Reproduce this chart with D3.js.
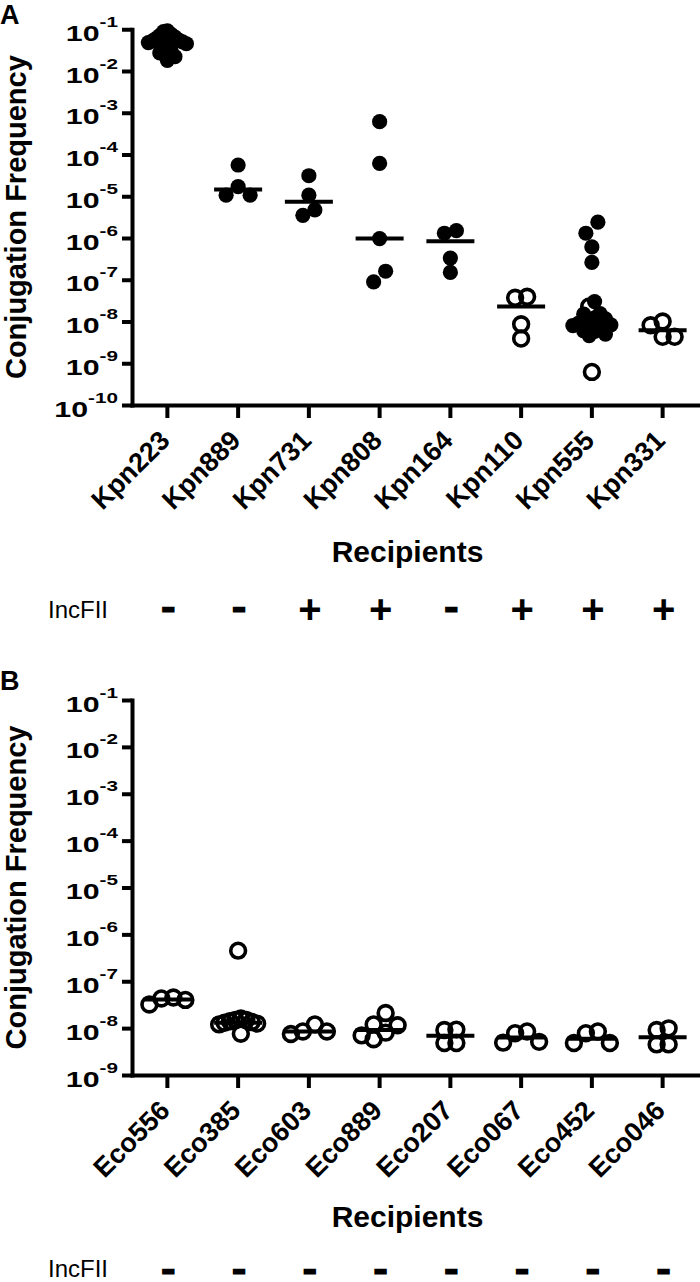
<!DOCTYPE html>
<html>
<head>
<meta charset="utf-8">
<script src="https://cdn.jsdelivr.net/npm/d3@7"></script>
<style>
  html, body { margin: 0; padding: 0; background: #fff; }
  svg { display: block; }
  text { font-family: "Liberation Sans", Arial, Helvetica, sans-serif; fill: #000; }
</style>
</head>
<body>
<script>
// ---------------- DATA ----------------
const kpnCategories = ["Kpn223","Kpn889","Kpn731","Kpn808","Kpn164","Kpn110","Kpn555","Kpn331"];
const kpnIncFII = ["-","-","+","+","-","+","+","+"];
// filled circles
const kpnFilled = [
  [0.092,0.088,0.075,0.07,0.065,0.06,0.055,0.052,0.05,0.048,0.045,0.04,0.035,0.03,0.027,0.022,0.018],
  [5.6e-5,1.7e-5,1.06e-5,1.06e-5],
  [3.1e-5,1.06e-5,4.7e-6,3.5e-6],
  [6.1e-4,6.1e-5,9.7e-7,1.6e-7,8.9e-8],
  [1.5e-6,1.3e-6,3.3e-7,1.5e-7],
  [],
  [2.4e-6,1.3e-6,6.1e-7,2.6e-7,3.0e-8,1.55e-8,1.5e-8,1.2e-8,1.15e-8,1.0e-8,9e-9,8.3e-9,8e-9,7e-9,6e-9,5.8e-9,5e-9,4.6e-9],
  []
];
// open circles
const kpnOpen = [
  [],[],[],[],[],
  [3.9e-8,3.7e-8,8.6e-9,3.9e-9],
  [2.3e-8,6.2e-10],
  [1.0e-8,8.1e-9,4.3e-9,4.3e-9]
];
const kpnMedians = [0.052,1.46e-5,7.4e-6,9.7e-7,8.4e-7,2.3e-8,1.0e-8,6.2e-9];

const ecoCategories = ["Eco556","Eco385","Eco603","Eco889","Eco207","Eco067","Eco452","Eco046"];
const ecoIncFII = ["-","-","-","-","-","-","-","-"];
const ecoFilled = [[],[],[],[],[],[],[],[]];
const ecoOpen = [
  [4.5e-8,4.3e-8,4.0e-8,3.2e-8],
  [4.5e-7,1.6e-8,1.5e-8,1.5e-8,1.4e-8,1.35e-8,1.3e-8,1.25e-8,1.2e-8,7.6e-9],
  [1.2e-8,8.5e-9,8.5e-9,7.5e-9],
  [2.1e-8,1.2e-8,1.15e-8,8e-9,7e-9,5.8e-9],
  [9.3e-9,9.1e-9,4.8e-9,4.8e-9],
  [8.5e-9,7.8e-9,5.1e-9,4.9e-9],
  [8.5e-9,7.8e-9,4.8e-9,4.8e-9],
  [9.9e-9,9.1e-9,4.5e-9,4.5e-9]
];
const ecoMedians = [4.1e-8,1.3e-8,8.5e-9,9.1e-9,6.9e-9,6.3e-9,5.9e-9,6.4e-9];

const kpnExponents = [-1,-2,-3,-4,-5,-6,-7,-8,-9,-10];
const ecoExponents = [-1,-2,-3,-4,-5,-6,-7,-8,-9];

const yTitle = "Conjugation Frequency";
const xTitle = "Recipients";
const rowLabel = "IncFII";

// ---------------- DRAW ----------------
const W = 700, H = 1282;
const svg = d3.select("body").append("svg").attr("width", W).attr("height", H);

const AX = 132, AXR = 698;

// beeswarm layout (column-based dodge, centred per cluster)
function swarm(points, y, s, T, maxHalf) {
  const pts = points.map(p => Object.assign({}, p, {py: y(p.v)})).sort((a,b) => a.py - b.py);
  const order = [0,-1,1,-2,2,-3,3,-4,4,-5,5,-6,6,-7,7,-8,8,-9,9,-10,10];
  const placed = [];
  for (const p of pts) {
    for (const c of order) {
      if (!placed.some(q => q.col === c && Math.abs(q.py - p.py) < T)) { p.col = c; break; }
    }
    placed.push(p);
  }
  const groups = [];
  let cur = null;
  pts.forEach((p, i) => {
    if (!cur || p.py - pts[i-1].py >= T) { cur = []; groups.push(cur); }
    cur.push(p);
  });
  groups.forEach(g => {
    const mn = d3.min(g, p => p.col), mx = d3.max(g, p => p.col);
    const c = (mn + mx) / 2;
    g.forEach(p => p.off = (p.col - c) * s);
    const half = d3.max(g, p => Math.abs(p.off));
    if (half > maxHalf) g.forEach(p => p.off *= maxHalf / half);
  });
  return pts;
}

function drawPanel(cfg) {
  const g = svg.append("g");
  const y = d3.scaleLog().domain([10 ** cfg.exps[0], 10 ** cfg.exps[cfg.exps.length-1]])
              .range([cfg.yTop, cfg.yBot]);
  const x = d3.scaleBand().domain(cfg.cats).range([AX, AXR]).paddingInner(0).paddingOuter(0);
  const cx = c => x(c) + x.bandwidth() / 2;

  g.append("text").attr("x", 0).attr("y", cfg.letterY).attr("font-size", 27)
    .attr("font-weight", "bold").text(cfg.letter);

  // y axis
  const yAxis = d3.axisLeft(y).tickValues(cfg.exps.map(e => 10 ** e)).tickSize(10)
    .tickSizeOuter(0).tickFormat(() => "");
  const ya = g.append("g").attr("transform", `translate(${AX},0)`).call(yAxis);
  ya.select(".domain").attr("stroke", "#000").attr("stroke-width", 4)
    .attr("stroke-linecap", "square");
  ya.selectAll(".tick line").attr("stroke", "#000").attr("stroke-width", 4);

  // y tick labels 10^e
  cfg.exps.forEach(e => {
    const tg = g.append("g").attr("transform", `translate(118,${y(10 ** e)}) scale(1.38,1)`);
    const t = tg.append("text").attr("text-anchor", "end").attr("y", 11.5)
      .attr("font-weight", "bold").attr("font-size", 22);
    t.append("tspan").text("10");
    t.append("tspan").attr("font-size", 15).attr("dy", -14).text(String(e));
  });

  // x axis
  const xAxis = d3.axisBottom(x).tickSize(13).tickSizeOuter(0).tickFormat(() => "");
  const xa = g.append("g").attr("transform", `translate(0,${cfg.yBot})`).call(xAxis);
  xa.select(".domain").attr("stroke", "#000").attr("stroke-width", 4)
    .attr("stroke-linecap", "square");
  xa.selectAll(".tick line").attr("stroke", "#000").attr("stroke-width", 4);

  // x tick labels rotated
  cfg.cats.forEach(c => {
    g.append("text")
      .attr("transform", `translate(${cx(c) + 4},${cfg.yBot + 37}) rotate(-45)`)
      .attr("text-anchor", "end").attr("font-weight", "bold").attr("font-size", 27)
      .text(c);
  });

  // y title
  g.append("text")
    .attr("transform", `translate(26,${(cfg.yTop + cfg.yBot) / 2}) rotate(-90)`)
    .attr("text-anchor", "middle").attr("font-weight", "bold").attr("font-size", 29)
    .text(yTitle);

  // x title
  g.append("text").attr("x", 407.5).attr("y", cfg.xTitleY).attr("text-anchor", "middle")
    .attr("font-weight", "bold").attr("font-size", 30).text(xTitle);

  // IncFII row
  g.append("text").attr("x", 48).attr("y", cfg.rowY).attr("font-size", 24).text(rowLabel);
  cfg.cats.forEach((c, i) => {
    const s = cfg.inc[i];
    if (s === "+") {
      g.append("text").attr("x", cx(c) + 1).attr("text-anchor", "middle")
        .attr("y", cfg.signY + 13.2)
        .attr("font-weight", "bold").attr("font-size", 40).text(s);
    } else {
      g.append("g").attr("transform", `translate(${cx(c) + 1},${cfg.signY + 5.6}) scale(1.45,1)`)
        .append("text").attr("text-anchor", "middle")
        .attr("font-weight", "bold").attr("font-size", 22)
        .attr("stroke", "#000").attr("stroke-width", 3).text(s);
    }
  });

  // points
  cfg.cats.forEach((c, i) => {
    const pts = cfg.filled[i].map(v => ({v, filled: true}))
      .concat(cfg.open[i].map(v => ({v, filled: false})));
    const laid = swarm(pts, y, 12, 13, 19);
    const pg = g.append("g");
    pg.selectAll("circle.f").data(laid.filter(p => p.filled)).join("circle")
      .attr("cx", p => cx(c) + p.off).attr("cy", p => p.py).attr("r", 7.6)
      .attr("fill", "#000");
    pg.selectAll("circle.o").data(laid.filter(p => !p.filled)).join("circle")
      .attr("cx", p => cx(c) + p.off).attr("cy", p => p.py).attr("r", 7.4)
      .attr("fill", "none").attr("stroke", "#000").attr("stroke-width", 3.6);
    pg.append("line").attr("x1", cx(c) - 24).attr("x2", cx(c) + 24)
      .attr("y1", y(cfg.medians[i])).attr("y2", y(cfg.medians[i]))
      .attr("stroke", "#000").attr("stroke-width", 4);
  });
}

drawPanel({
  letter: "A", letterY: 24, cats: kpnCategories, inc: kpnIncFII,
  filled: kpnFilled, open: kpnOpen, medians: kpnMedians, exps: kpnExponents,
  yTop: 29.25, yBot: 405, xTitleY: 562, rowY: 618, signY: 609.5
});
drawPanel({
  letter: "B", letterY: 690, cats: ecoCategories, inc: ecoIncFII,
  filled: ecoFilled, open: ecoOpen, medians: ecoMedians, exps: ecoExponents,
  yTop: 700, yBot: 1075, xTitleY: 1227, rowY: 1276.5, signY: 1271
});
</script>
</body>
</html>
